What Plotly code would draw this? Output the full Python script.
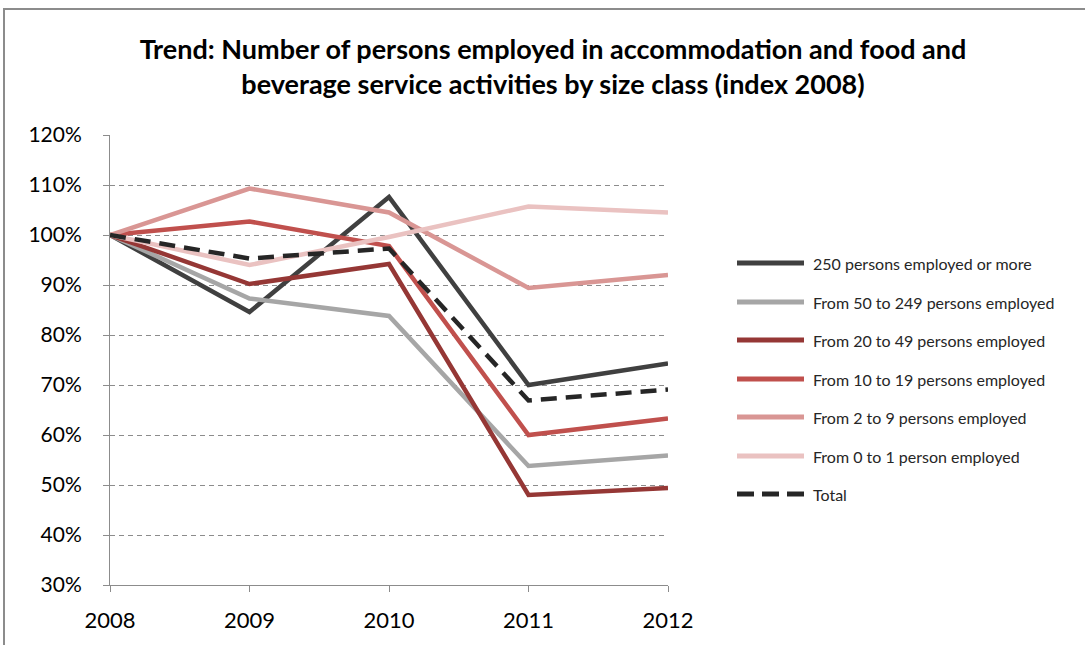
import plotly.graph_objects as go

years = [2008, 2009, 2010, 2011, 2012]

series_names = [
    "250 persons employed or more",
    "From 50 to 249 persons employed",
    "From 20 to 49 persons employed",
    "From 10 to 19 persons employed",
    "From 2 to 9 persons employed",
    "From 0 to 1 person employed",
    "Total",
]

large_250 = [1.00, 0.846, 1.076, 0.700, 0.743]
mid_50_249 = [1.00, 0.873, 0.838, 0.538, 0.559]
mid_20_49 = [1.00, 0.902, 0.942, 0.480, 0.494]
small_10_19 = [1.00, 1.027, 0.978, 0.600, 0.633]
micro_2_9 = [1.00, 1.093, 1.045, 0.894, 0.920]
micro_0_1 = [1.00, 0.940, 0.996, 1.057, 1.045]
total = [1.00, 0.953, 0.973, 0.669, 0.691]

series_values = [large_250, mid_50_249, mid_20_49, small_10_19, micro_2_9, micro_0_1, total]
colors = ["#404040", "#A6A6A6", "#953735", "#C0504D", "#D99694", "#EAC2C1", "#262626"]
dashes = ["solid"] * 6 + ["16px,9px"]

y_ticks = [0.3, 0.4, 0.5, 0.6, 0.7, 0.8, 0.9, 1.0, 1.1, 1.2]
y_tick_labels = ["30%", "40%", "50%", "60%", "70%", "80%", "90%", "100%", "110%", "120%"]

FONT = "Lato"
W, H = 1085, 645
L, R, T, B = 110, 417, 135, 60
PW, PH = W - L - R, H - T - B


def px_to_paper(px, py):
    return (px - L) / PW, (H - B - py) / PH


fig = go.Figure()
for name, vals, col, dash in zip(series_names, series_values, colors, dashes):
    fig.add_trace(go.Scatter(
        x=years, y=vals, name=name, mode="lines",
        line=dict(color=col, width=4.5, dash=dash),
        showlegend=False,
    ))

shapes = []
annotations = []

# outer chart frame
x0, y0 = px_to_paper(4, 9)
x1, y1 = px_to_paper(1092, 652)
shapes.append(dict(type="rect", xref="paper", yref="paper", x0=x0, y0=y1, x1=x1, y1=y0,
                   line=dict(color="#8C8C8C", width=2), layer="below"))

# legend drawn to the right of the plot area
leg_y = [263, 302, 340, 379, 417, 456, 494]
for name, col, dash, ly in zip(series_names, colors, dashes, leg_y):
    lx0, lyp = px_to_paper(737, ly)
    lx1, _ = px_to_paper(804, ly)
    if dash == "solid":
        shapes.append(dict(type="line", xref="paper", yref="paper", x0=lx0, x1=lx1, y0=lyp, y1=lyp,
                           line=dict(color=col, width=5)))
    else:
        for sx in (737, 762, 787):
            a, _ = px_to_paper(sx, ly)
            b, _ = px_to_paper(sx + 17, ly)
            shapes.append(dict(type="line", xref="paper", yref="paper", x0=a, x1=b, y0=lyp, y1=lyp,
                               line=dict(color=col, width=5)))
    tx, _ = px_to_paper(811, ly)
    annotations.append(dict(xref="paper", yref="paper", x=tx, y=lyp, text=name, showarrow=False,
                            xanchor="left", yanchor="middle",
                            font=dict(family=FONT, size=16, color="#262626")))

fig.update_layout(
    width=W, height=H,
    margin=dict(l=L, r=R, t=T, b=B),
    paper_bgcolor="white", plot_bgcolor="white",
    title=dict(
        text="<b>Trend: Number of persons employed in accommodation and food and<br>"
             "beverage service activities by size class (index 2008)</b>",
        x=553 / W, xanchor="center", y=1 - 59 / H, yanchor="middle",
        font=dict(family=FONT, size=27, color="#000000"),
    ),
    font=dict(family=FONT, color="#000000"),
    shapes=shapes,
    annotations=annotations,
    xaxis=dict(
        range=[2008, 2012], tickvals=years, ticktext=[str(y) for y in years],
        showgrid=False, zeroline=False,
        showline=True, linecolor="#8C8C8C", linewidth=1,
        ticks="outside", ticklen=6, tickcolor="#8C8C8C",
        ticklabelstandoff=10,
        tickfont=dict(family=FONT, size=22, color="#000000"),
    ),
    yaxis=dict(
        range=[0.3, 1.2], tickvals=y_ticks, ticktext=y_tick_labels,
        showgrid=True, gridcolor="#8C8C8C", griddash="5px,4px", gridwidth=1,
        zeroline=False,
        showline=True, linecolor="#8C8C8C", linewidth=1,
        ticks="outside", ticklen=6, tickcolor="#8C8C8C",
        ticklabelstandoff=17,
        tickfont=dict(family=FONT, size=21, color="#000000"),
    ),
)

fig.write_html("out.html")
